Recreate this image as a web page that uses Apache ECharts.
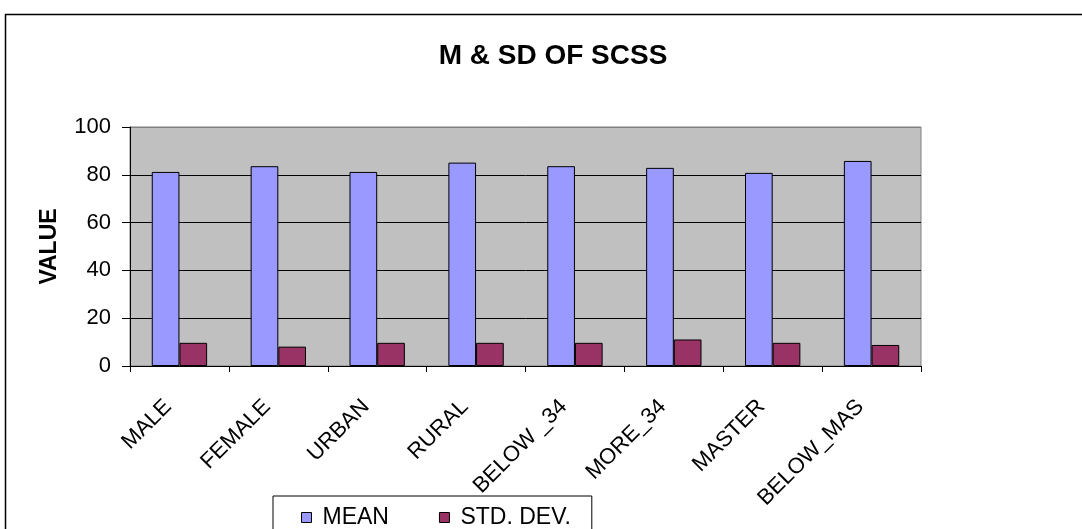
<!DOCTYPE html>
<html>
<head>
<meta charset="utf-8">
<script src="https://cdn.jsdelivr.net/npm/echarts@6/dist/echarts.min.js"></script>
<style>html,body{margin:0;padding:0;background:#fff}#c{width:1082px;height:529px}</style>
</head>
<body>
<div id="c"></div>
<script>
const categories = ['MALE','FEMALE','URBAN','RURAL','BELOW _34','MORE_34','MASTER','BELOW_MAS'];
const meanValues = [81.2, 83.6, 81.2, 85.1, 83.6, 82.9, 80.8, 85.8];
const sdValues = [9.7, 8.1, 9.7, 9.7, 9.7, 11.1, 9.7, 8.8];
const seriesNames = ['MEAN', 'STD. DEV.'];

const FONT = '"Liberation Sans", Arial, sans-serif';
const chart = echarts.init(document.getElementById('c'), null, {renderer: 'canvas'});
chart.setOption({
  animation: false,
  backgroundColor: '#fff',
  title: {
    text: 'M & SD OF SCSS',
    left: 548, textAlign: 'center', top: 37,
    textStyle: {fontFamily: FONT, fontSize: 28, fontWeight: 'bold', color: '#000'}
  },
  graphic: [{
    type: 'rect', shape: {x: 5.5, y: 14.5, width: 1200, height: 700},
    style: {fill: 'none', stroke: '#000', lineWidth: 1.5}, silent: true
  }],
  legend: {
    data: seriesNames,
    left: 273, top: 496,
    orient: 'horizontal',
    itemGap: 50,
    icon: 'rect', itemWidth: 10, itemHeight: 10,
    itemStyle: {borderColor: '#000', borderWidth: 1},
    borderColor: '#000', borderWidth: 1,
    padding: [10, 21, 20, 28],
    textStyle: {fontFamily: FONT, fontSize: 23, color: '#000', padding: [0, 0, 0, 6]}
  },
  grid: {
    left: 130, right: 161, top: 127, bottom: 163,
    show: true, backgroundColor: '#C0C0C0', borderColor: '#808080', borderWidth: 1
  },
  xAxis: {
    type: 'category', data: categories,
    axisLine: {lineStyle: {color: '#000', width: 1}},
    axisTick: {show: true, alignWithLabel: false, length: 6, lineStyle: {color: '#000'}},
    axisLabel: {rotate: 45, fontFamily: FONT, fontSize: 22, color: '#000', margin: 26,
                interval: 0, padding: [0, 16, 0, 0]}
  },
  yAxis: {
    type: 'value', min: 0, max: 100, interval: 20,
    name: 'VALUE', nameLocation: 'middle', nameGap: 69, nameRotate: 90,
    nameTextStyle: {fontFamily: FONT, fontSize: 23, fontWeight: 'bold', color: '#000'},
    axisLine: {show: true, lineStyle: {color: '#000', width: 1}},
    axisTick: {show: true, length: 8, lineStyle: {color: '#000'}},
    axisLabel: {fontFamily: FONT, fontSize: 22, color: '#000', margin: 19},
    splitLine: {show: true, lineStyle: {color: ['#000','#000','#000','#000','#000','#808080'], width: 1}}
  },
  series: [
    {name: seriesNames[0], type: 'bar', data: meanValues, barGap: '0%', barCategoryGap: '44%',
     itemStyle: {color: '#9999FF', borderColor: '#000', borderWidth: 1}},
    {name: seriesNames[1], type: 'bar', data: sdValues,
     itemStyle: {color: '#993366', borderColor: '#000', borderWidth: 1}}
  ]
});
</script>
</body>
</html>
